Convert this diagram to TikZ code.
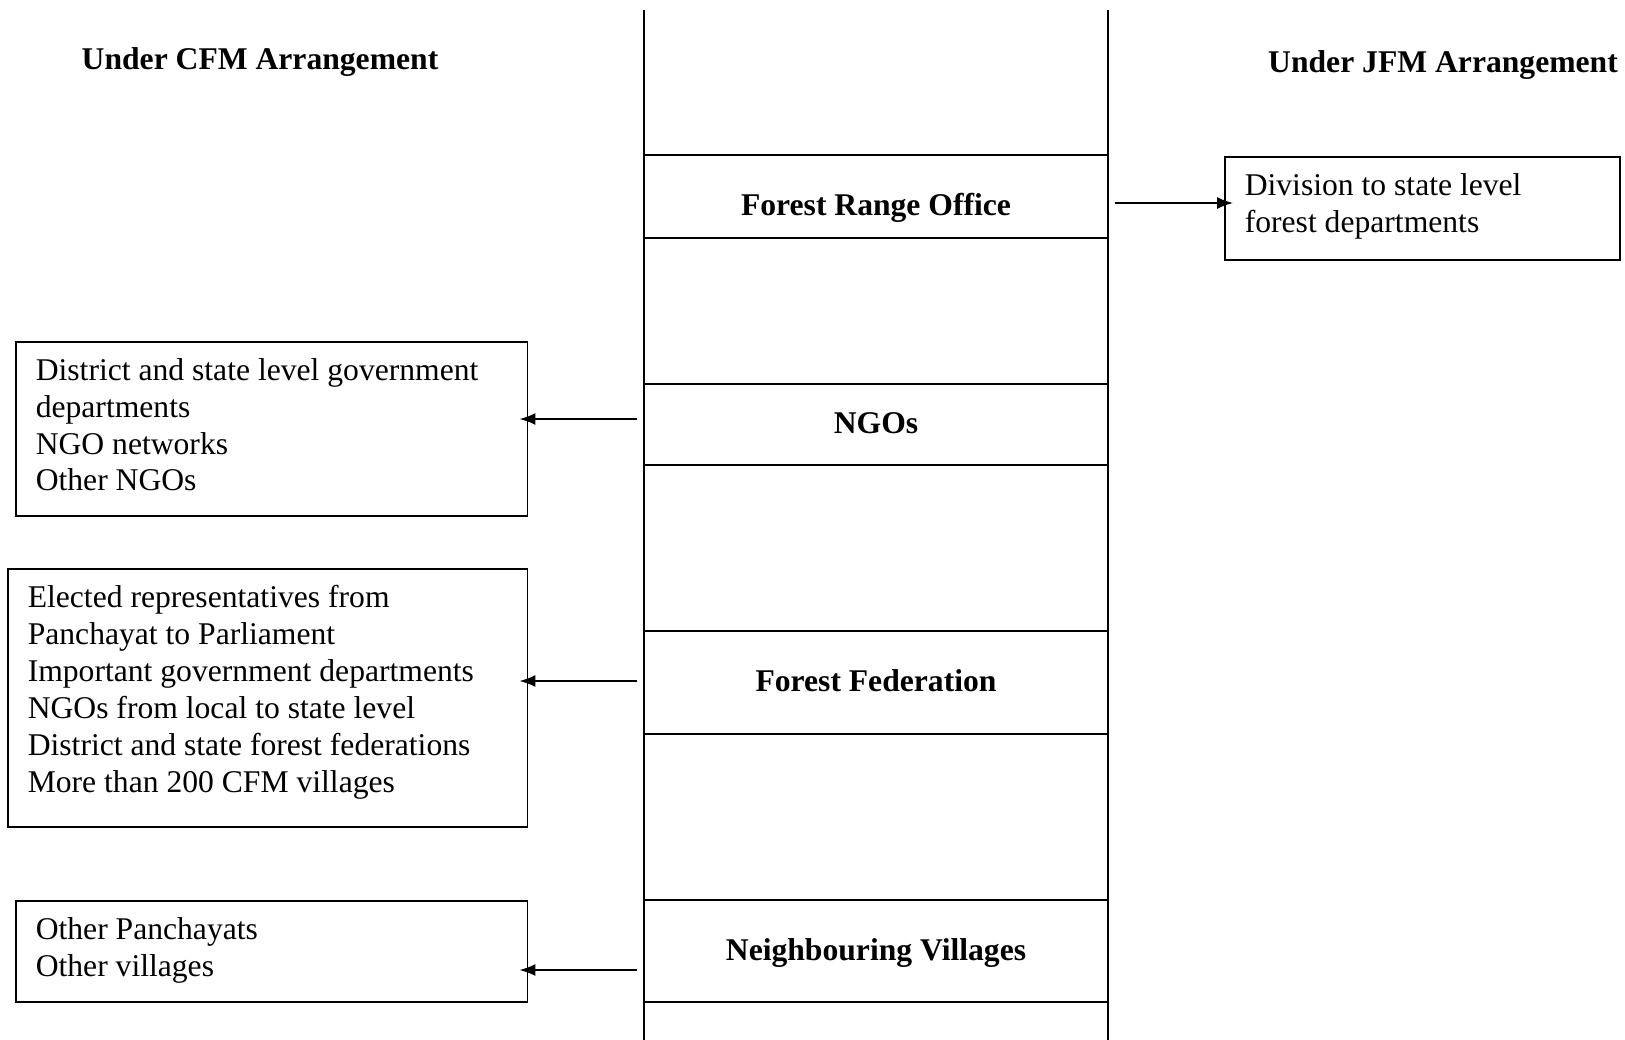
\documentclass[tikz,border=0pt]{standalone}
\usepackage{fontspec}
\setmainfont{Liberation Serif}
\usetikzlibrary{arrows.meta}
\newcommand{\boxtext}[3]{\parbox[c][#2][t]{#1}{\raggedright #3}}
\begin{document}
\begin{tikzpicture}[x=0.02cm,y=-0.02cm,line width=0.9pt,
	title/.style={font=\fontsize{18}{20}\selectfont\bfseries},
	band/.style={minimum width=9.52cm,inner sep=0pt,font=\fontsize{18}{20}\selectfont\bfseries},
	listbox/.style={draw,anchor=north west,inner xsep=0.4cm,inner ysep=0.33cm,font=\fontsize{18}{21}\selectfont},
	arr/.style={-{Latex[length=0.32cm,width=0.24cm]},shorten >=-0.18cm}]
		\useasboundingbox (0,0) rectangle (1625,1040);
		
		\node[title] (cfm) at (260,62) {Under CFM Arrangement};
		\node[title] (jfmtitle) at (1443,65) {Under JFM Arrangement};
		
		\draw (644,10) -- (644,1040);
		\draw (1108,10) -- (1108,1040);
		
		\draw (644,155) -- (1108,155);
		\draw (644,238) -- (1108,238);
		\node[band] (fro) at (876,208) {Forest Range Office};
		
		\draw (644,384) -- (1108,384);
		\draw (644,465) -- (1108,465);
		\node[band] (ngo) at (876,423) {NGOs};
		
		\draw (644,631) -- (1108,631);
		\draw (644,734) -- (1108,734);
		\node[band] (ff) at (876,681) {Forest Federation};
		
		\draw (644,900) -- (1108,900);
		\draw (644,1002) -- (1108,1002);
		\node[band] (nv) at (876,953) {Neighbouring Villages};
		
		\node[listbox] (jfm) at (1224,156) {\boxtext{7.1cm}{1.4cm}{Division to state level\\forest departments}};
		\node[listbox] (ngol) at (15,341) {\boxtext{9.44cm}{2.82cm}{District and state level government\\departments\\NGO networks\\Other NGOs}};
		\node[listbox] (ffl) at (7,568) {\boxtext{9.6cm}{4.5cm}{Elected representatives from\\Panchayat to Parliament\\Important government departments\\NGOs from local to state level\\District and state forest federations\\More than 200 CFM villages}};
		\node[listbox] (nvl) at (15,900) {\boxtext{9.44cm}{1.36cm}{Other Panchayats\\Other villages}};
		
		\draw[arr] ([yshift=0.1cm]fro.east) -- ([yshift=0.1cm]fro.east -| jfm.west);
		\draw[arr] ([yshift=0.08cm]ngo.west) -- ([yshift=0.08cm]ngo.west -| ngol.east);
		\draw[arr] (ff.west) -- (ff.west -| ffl.east);
		\draw[arr] ([yshift=-0.34cm]nv.west) -- ([yshift=-0.34cm]nv.west -| nvl.east);
	\end{tikzpicture}
\end{document}
